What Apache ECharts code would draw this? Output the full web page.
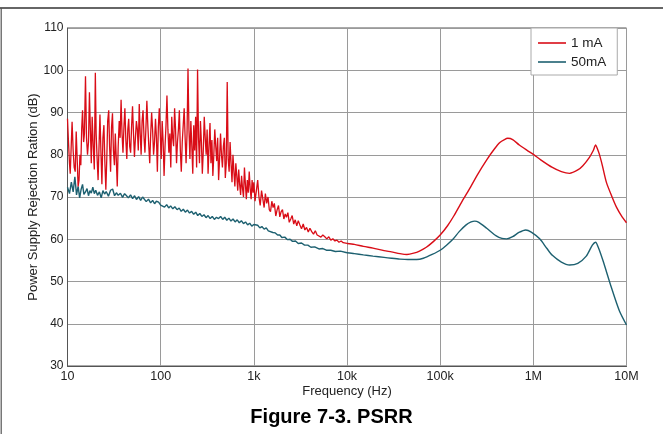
<!DOCTYPE html>
<html>
<head>
<meta charset="utf-8">
<script src="https://cdn.jsdelivr.net/npm/echarts@6/dist/echarts.min.js"></script>
<style>
html,body{margin:0;padding:0;background:#fff;}
#c{width:663px;height:434px;}
</style>
</head>
<body>
<div id="c"></div>
<script>
// ---- data ----
const xTickLabels = ['10', '100', '1k', '10k', '100k', '1M', '10M'];
const seriesNames = ['1 mA', '50mA'];
const smoothFrom = 10000; // above this frequency the measured curves are smooth

const redFreq = [
10,10.2,10.5,10.7,11,11.2,11.5,11.8,12.1,12.4,
12.7,13,13.3,13.6,13.9,14.2,14.5,14.9,15.2,15.6,
16,16.4,16.8,17.2,17.6,18,18.4,18.9,19.4,19.9,
20.3,20.8,21.3,21.8,22.3,22.9,23.4,24,24.6,25.2,
25.8,26.4,27,27.7,28.3,29,29.7,30.4,31.1,31.9,
32.6,33.4,34.2,35,35.9,36.7,37.6,38.5,39.4,40.4,
41.3,42.3,43.3,44.4,45.4,46.5,47.6,48.8,49.9,51.1,
52.3,53.6,54.9,56.2,57.5,58.9,60.3,61.7,63.2,64.7,
66.3,67.8,69.5,71.1,72.8,74.6,76.3,78.2,80,81.9,
83.9,85.9,88,90.1,92.2,94.4,96.7,99,101.4,103.8,
106.3,108.8,111.4,114.1,116.8,119.6,122.5,125.4,128.4,131.5,
134.6,137.8,141.1,144.5,148,151.5,155.1,158.8,162.6,166.5,
170.5,174.6,178.8,183,187.4,191.9,196.5,201.2,206,210.9,
216,221.1,226.4,231.8,237.4,243.1,248.9,254.8,260.9,267.2,
273.6,280.1,286.8,293.7,300.7,307.9,315.3,322.8,330.5,338.4,
346.5,354.8,363.3,372,380.9,390,399.4,408.9,418.7,428.7,
439,449.5,460.3,471.3,482.6,494.1,505.9,518,530.4,543.1,
556.1,569.4,583,597,611.3,625.9,640.9,656.2,671.9,688,
704.5,721.3,738.6,756.2,774.3,792.9,811.8,831.3,851.2,871.5,
892.4,913.7,935.6,958,980.9,1000,
1030,1065,1100,1135,1170,1210,1250,1290,1330,1375,
1420,1465,1510,1560,1610,1660,1720,1780,1840,1900,
1960,2030,2100,2170,2240,2320,2400,2490,2580,2680,
2780,2890,3000,3120,3250,3390,3530,3680,3840,4000,
4180,4370,4570,4780,5000,5250,5500,5780,6070,6380,
6700,7050,7420,7800,8200,8650,9100,9550,10000,
12000,15000,19000,25000,30000,37000,44000,52000,60000,71000,
85000,100000,120000,140000,170000,205000,250000,316000,380000,437000,
490000,531000,600000,707000,850000,1000000,1200000,1600000,2000000,2450000,
3000000,3400000,4000000,4400000,4660000,4800000,5100000,5500000,6100000,7000000,
7800000,8800000,10000000
];
const redDb = [
88.5,84,78,75.5,83,87.8,81,77,76,85.5,
79,72.5,74,80,77.5,86,90.5,83,85,98.6,
84,80,83,94.8,86,78,89,82,76.5,99.4,
85,79,74,82,89.5,80,73,84,87,78,
71.7,79,88,90.5,82,76,86.5,89.8,81,77.5,
85,79,72.5,82,88,84,93,85,80.5,87,
91,83.5,79,86,88.5,82,80.5,87,91.5,85,
79.5,84,88,86,81,92,85,80,88,90.5,
84,80.5,86.5,92.8,87,82,78,85,90,86,
80,83,88.5,84,76,86.5,91,85,79,88,
83,75,82,87,94,86,80.5,85,77,89,
84,82,91,86,78,83,86,90.5,81,76,
83,87,91,84,78,85,100.4,86,79,88,
82,75.5,87,81,89,77,100.2,84,78,88,
83,75.5,81,89,84,80,86,75.5,82,87.5,
78,83.5,75,80,86,82,78.5,84,74,79,
85,80,77,82,84,74.5,78,97.2,79,76,
83,78,73.5,80,76,72.5,78,75,71.5,76.5,
73,70.5,75,72,70,77,73,69.5,74,71,
76,72,69.5,74,71,73.5,
69,71.5,74,70,68,71.5,69.5,67.5,70.8,68.5,
70,67,66.5,69,67.5,68.5,65.5,67,68,65.3,
66.5,67,64.8,66,65.2,66.3,64,64.8,65.6,63.6,
64.6,63.2,64.4,63.4,62.5,63.6,62.2,62.8,61.7,62.6,
61.8,61.2,62,61,61.3,60.5,61,60.6,60.1,60.6,
59.8,60.1,59.6,59.8,59.3,59.6,59.2,59.3,59,
58.8,58.3,57.9,57.3,57,56.6,56.4,56.7,57.2,58.1,
59.5,61,63.2,65.5,68.8,71.8,75.2,78.8,81.3,82.9,
83.6,83.9,83.6,82.3,81.1,80.1,78.8,77,76,75.6,
76.4,77.4,79.4,81,82.3,81.8,80.2,77.5,73.4,70,
67.6,65.6,63.9
];

const tealFreq = [
10,10.5,11,11.5,12,12.5,13,13.5,14,14.5,15,15.6,16.2,16.8,17.4,18,18.7,19.4,20.1,21,
22,23,24,25,26,27.5,29,30.5,32,33.5,35,37,39,41,43,45,47.5,50,52.5,55,
58,61,64,67,70,74,78,82,86,90,95,100,105,110,116,122,128,135,142,150,
158,166,175,184,194,204,215,226,238,250,263,277,292,307,323,340,358,377,397,418,
440,463,487,513,540,568,598,630,663,698,735,774,815,858,903,950,1000,1050,1100,1160,
1220,1290,1360,1430,1500,1600,1700,1800,1900,2000,2150,2300,2450,2600,2800,3000,3250,3500,3800,4100,
4500,5000,5500,6000,6700,7500,8500,10000,12000,15000,19000,25000,30000,37000,45000,56000,66000,82000,
100000,117000,137000,160000,190000,215000,235000,260000,316000,400000,460000,518000,600000,700000,828000,950000,
1170000,1400000,1600000,2000000,2450000,3000000,3700000,4300000,4660000,5000000,5600000,6900000,8400000,10000000
];
const tealDb = [
72.3,70.8,73.5,71.2,74.8,70.5,72.5,69.8,71.8,73,70.6,71.2,72,70.3,71.5,70.9,72.3,70.8,71.6,70.4,
71.2,69.8,71.5,70.7,71.3,70.2,71.6,71.9,70.3,71,70.4,70.9,69.9,70.8,70.3,69.8,70.5,69.6,70.3,69.4,
70.1,69.2,70,69.6,68.9,69.5,68.6,69.2,68.4,69,68.8,68.1,68.5,67.6,68.2,67.4,67.9,67.2,67.7,67,
67.4,66.6,67.1,66.4,66.9,66.2,66.6,65.9,66.4,65.6,66.1,65.4,65.8,65.1,65.6,64.9,65.4,64.7,65.2,64.9,
65.4,64.7,65.2,64.5,65,64.3,64.8,64.1,64.6,63.9,64.4,63.7,64.1,63.4,63.8,63.1,63.5,63.1,63.3,62.7,
63,62.4,62.7,62,62.2,61.6,61.5,61,61,60.4,60.5,59.9,60,59.5,59.6,59,59.1,58.6,58.6,58.1,
58.2,57.7,57.8,57.4,57.4,57.1,57.2,56.8,56.6,56.3,56,55.7,55.5,55.3,55.2,55.2,55.5,56.4,
57.4,58.6,60,61.8,63.4,64.1,64.3,64,62.6,60.8,60.2,60.1,60.6,61.6,62.2,61.7,
60.1,57.8,56.2,54.6,53.9,54.3,56,58.6,59.3,58,54.9,48.5,43,39.7
];

const redColor = '#d90d17';
const tealColor = '#1d6070';
const FONT = '"Liberation Sans", Arial, sans-serif';

function pairs(f, v, keep) {
  const out = [];
  f.forEach((x, i) => { if (keep(x)) out.push([x, v[i]]); });
  return out;
}
const noisy = x => x <= smoothFrom;
const smooth = x => x >= smoothFrom;

function lineSeries(name, data, color, width, isSmooth, z) {
  return {name, type: 'line', data, symbol: 'none', showSymbol: false, smooth: isSmooth ? 0.25 : false,
          lineStyle: {color, width}, itemStyle: {color}, z, emphasis: {disabled: true}};
}

const chart = echarts.init(document.getElementById('c'), null, {renderer: 'canvas'});
chart.setOption({
  animation: false,
  backgroundColor: '#fff',
  textStyle: {fontFamily: FONT},
  title: {
    text: 'Figure 7-3. PSRR',
    left: 'center',
    top: 402,
    textStyle: {fontFamily: FONT, fontSize: 20, fontWeight: 'bold', color: '#000'}
  },
  grid: {left: 67.5, right: 36.5, top: 28, bottom: 68, show: true, borderColor: '#555', borderWidth: 1, backgroundColor: 'transparent'},
  legend: {
    data: seriesNames,
    orient: 'vertical',
    left: 531, top: 28,
    icon: 'rect',
    itemWidth: 28, itemHeight: 1.6,
    itemGap: 5,
    padding: [8, 11, 6, 7],
    backgroundColor: '#fff',
    borderColor: '#aaa', borderWidth: 1,
    textStyle: {fontFamily: FONT, fontSize: 13.5, color: '#222', lineHeight: 14}
  },
  xAxis: {
    type: 'log', logBase: 10, min: 10, max: 1e7,
    name: 'Frequency (Hz)', nameLocation: 'middle', nameGap: 19, nameMoveOverlap: false,
    nameTextStyle: {fontFamily: FONT, fontSize: 13, color: '#222'},
    axisLine: {show: true, onZero: false, lineStyle: {color: '#555', width: 1}},
    axisTick: {show: false},
    minorTick: {show: false},
    axisLabel: {
      margin: 4, fontFamily: FONT, fontSize: 12.5, color: '#222',
      formatter: v => xTickLabels[Math.round(Math.log10(v)) - 1]
    },
    splitLine: {show: true, lineStyle: {color: '#9a9a9a', width: 1}}
  },
  yAxis: {
    type: 'value', min: 30, max: 110, interval: 10,
    name: 'Power Supply Rejection Ration (dB)', nameLocation: 'middle', nameGap: 28, nameMoveOverlap: false,
    nameTextStyle: {fontFamily: FONT, fontSize: 13, color: '#222'},
    axisLine: {show: true, lineStyle: {color: '#555', width: 1}},
    axisTick: {show: false},
    axisLabel: {margin: 4, fontFamily: FONT, fontSize: 12, color: '#222', padding: [0, 0, 3, 0]},
    splitLine: {show: true, lineStyle: {color: '#9a9a9a', width: 1}}
  },
  series: [
    lineSeries(seriesNames[0], pairs(redFreq, redDb, noisy), redColor, 1.3, false, 4),
    lineSeries(seriesNames[0], pairs(redFreq, redDb, smooth), redColor, 1.4, true, 4),
    lineSeries(seriesNames[1], pairs(tealFreq, tealDb, noisy), tealColor, 1.4, false, 3),
    lineSeries(seriesNames[1], pairs(tealFreq, tealDb, smooth), tealColor, 1.4, true, 3)
  ],
  graphic: [
    {type: 'line', shape: {x1: 0, y1: 8, x2: 663, y2: 8}, style: {stroke: '#333', lineWidth: 1.5}, silent: true},
    {type: 'line', shape: {x1: 1.2, y1: 8, x2: 1.2, y2: 434}, style: {stroke: '#555', lineWidth: 1.2}, silent: true}
  ]
});
</script>
</body>
</html>
